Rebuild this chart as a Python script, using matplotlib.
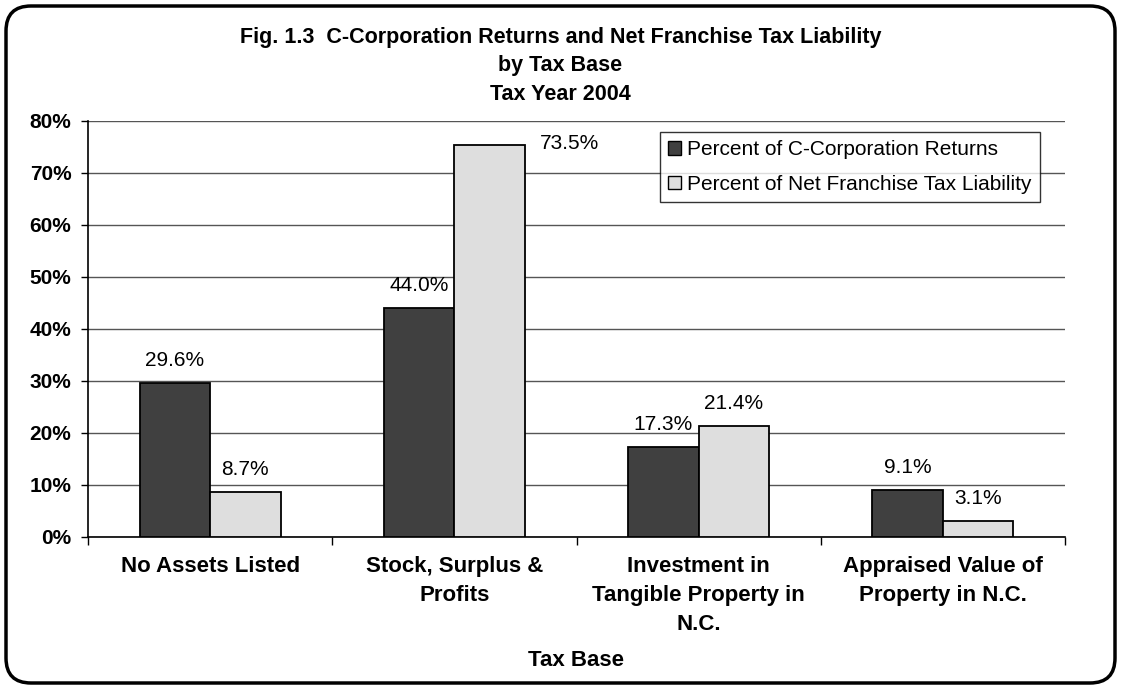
import numpy as np
import matplotlib
matplotlib.use("Agg")
import matplotlib.pyplot as plt
from matplotlib.patches import FancyBboxPatch, Patch
from matplotlib.transforms import IdentityTransform

plt.rcParams['font.family'] = ['Liberation Sans', 'DejaVu Sans']

# ---- data ----
categories = ["No Assets Listed", "Stock, Surplus &\nProfits",
              "Investment in\nTangible Property in\nN.C.", "Appraised Value of\nProperty in N.C."]
series_names = ["Percent of C-Corporation Returns", "Percent of Net Franchise Tax Liability"]
returns_pct = [29.6, 44.0, 17.3, 9.1]
liability_pct = [8.7, 75.3, 21.4, 3.1]
returns_labels = ["29.6%", "44.0%", "17.3%", "9.1%"]
liability_labels = ["8.7%", "73.5%", "21.4%", "3.1%"]
yticks = [0, 10, 20, 30, 40, 50, 60, 70, 80]
ytick_labels = ["0%", "10%", "20%", "30%", "40%", "50%", "60%", "70%", "80%"]
title_lines = ["Fig. 1.3  C-Corporation Returns and Net Franchise Tax Liability",
               "by Tax Base", "Tax Year 2004"]
xlabel = "Tax Base"

W, H = 1121, 686
fig = plt.figure(figsize=(W / 100, H / 100), dpi=100)
ax = fig.add_axes([88 / W, 1 - 537 / H, (1065 - 88) / W, (537 - 121) / H])

dark = "#404040"
light = "#dedede"
x = np.arange(len(categories))
w = 0.289
b1 = ax.bar(x - w / 2, returns_pct, w, color=dark, edgecolor="black", linewidth=1.3, zorder=3)
b2 = ax.bar(x + w / 2, liability_pct, w, color=light, edgecolor="black", linewidth=1.3, zorder=3)

for rect, lab in zip(b1, returns_labels):
    ax.annotate(lab, (rect.get_x() + rect.get_width() / 2, rect.get_height()),
                xytext=(0, 13), textcoords="offset pixels", ha="center", va="bottom",
                fontsize=15)
for i, (rect, lab) in enumerate(zip(b2, liability_labels)):
    if rect.get_height() > 70:
        ax.annotate(lab, (rect.get_x() + rect.get_width(), rect.get_height()),
                    xytext=(15, 2), textcoords="offset pixels", ha="left", va="center",
                    fontsize=15)
    else:
        ax.annotate(lab, (rect.get_x() + rect.get_width() / 2, rect.get_height()),
                    xytext=(0, 13), textcoords="offset pixels", ha="center", va="bottom",
                    fontsize=15)

ax.set_xlim(-0.5, len(categories) - 0.5)
ax.set_ylim(0, 80)
ax.set_yticks(yticks)
ax.set_yticklabels(ytick_labels, fontsize=15, fontweight="bold")
ax.yaxis.grid(True, color="#555555", linewidth=1.0, zorder=0)
ax.set_axisbelow(True)

ax.set_xticks(x)
ax.set_xticklabels(categories, fontsize=16, fontweight="bold", linespacing=1.5, va="top")
ax.tick_params(axis="x", length=0, pad=14)
ax.set_xticks(np.arange(len(categories) + 1) - 0.5, minor=True)
ax.tick_params(axis="x", which="minor", length=6, width=1, direction="out", color="black")
ax.tick_params(axis="y", length=5, width=1, direction="out", pad=7)

for s in ["top", "right"]:
    ax.spines[s].set_visible(False)
ax.spines["left"].set_linewidth(1.2)
ax.spines["bottom"].set_linewidth(1.2)

fig.text((88 + 1065) / 2 / W, 1 - 661 / H, xlabel, ha="center", va="center",
         fontsize=16, fontweight="bold")

handles = [Patch(facecolor=dark, edgecolor="black", linewidth=1),
           Patch(facecolor=light, edgecolor="black", linewidth=1)]
leg = ax.legend(handles, series_names, loc="upper right", bbox_to_anchor=(1040, 686 - 132),
                bbox_transform=IdentityTransform(), fontsize=15, frameon=True, fancybox=False,
                borderpad=0.4, handlelength=0.6, handleheight=0.6, handletextpad=0.3,
                labelspacing=0.75, borderaxespad=0)
leg.get_frame().set_edgecolor("black")
leg.get_frame().set_linewidth(1)

ys = [38, 66, 94]
for t, yy in zip(title_lines, ys):
    fig.text(0.5, 1 - yy / H, t, ha="center", va="center", fontsize=15.5, fontweight="bold")

border = FancyBboxPatch((6, 3), 1109, 677, boxstyle="round,pad=0,rounding_size=25",
                        transform=IdentityTransform(), fill=False, edgecolor="black",
                        linewidth=2.5, zorder=10)
fig.patches.append(border)

fig.savefig("out.png", dpi=100)
